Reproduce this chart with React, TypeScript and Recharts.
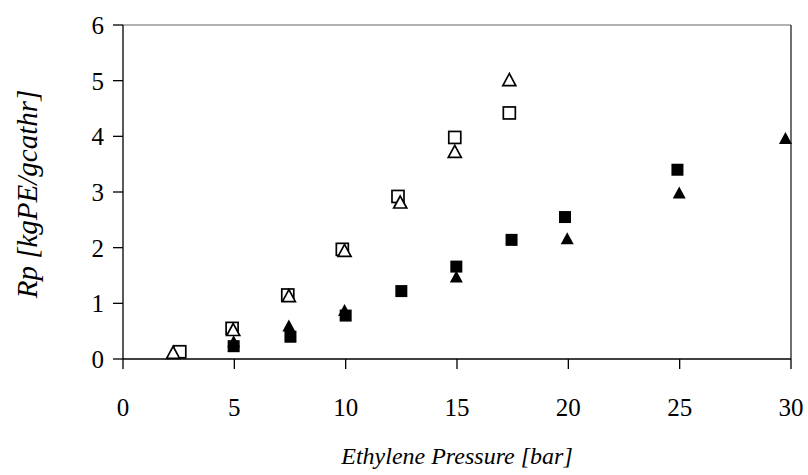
import { ScatterChart, Scatter, XAxis, YAxis, ReferenceLine } from "recharts"

// open squares
const openSquareX = [2.55, 4.9, 7.4, 9.85, 12.35, 14.9, 17.35]
const openSquareY = [0.13, 0.55, 1.15, 1.97, 2.92, 3.98, 4.42]

// open triangles
const openTriX = [2.25, 4.95, 7.45, 9.95, 12.45, 14.9, 17.35]
const openTriY = [0.12, 0.53, 1.14, 1.95, 2.82, 3.73, 5.02]

// filled squares
const fillSquareX = [4.97, 7.52, 10.0, 12.5, 14.97, 17.45, 19.85, 24.9]
const fillSquareY = [0.23, 0.4, 0.78, 1.22, 1.66, 2.14, 2.55, 3.4]

// filled triangles
const fillTriX = [4.97, 7.45, 9.95, 14.97, 19.95, 24.98, 29.75]
const fillTriY = [0.32, 0.6, 0.88, 1.48, 2.17, 2.99, 3.97]

const xTicks = [0, 5, 10, 15, 20, 25, 30]
const yTicks = [0, 1, 2, 3, 4, 5, 6]

const zip = (xs: number[], ys: number[]) => xs.map((x, i) => ({ x, y: ys[i] }))

const FONT = "Liberation Serif, Times New Roman, serif"

const square = (filled: boolean) => (p: any) => {
    const s = 12
    return (
        <rect
            x={p.cx - s / 2}
            y={p.cy - s / 2}
            width={s}
            height={s}
            fill={filled ? "#000" : "#fff"}
            stroke="#000"
            strokeWidth={filled ? 0 : 1.7}
        />
    )
}

const triangle = (filled: boolean) => (p: any) => {
    const h = 6
    const w = 6.5
    const pts = `${p.cx},${p.cy - h} ${p.cx - w},${p.cy + h} ${p.cx + w},${p.cy + h}`
    return (
        <polygon
            points={pts}
            fill={filled ? "#000" : "#fff"}
            stroke="#000"
            strokeWidth={filled ? 0 : 1.7}
        />
    )
}

const tick = { fill: "#000", fontSize: 25, fontFamily: FONT }

export default function App() {
    return (
        <div style={{ position: "absolute", left: 0, top: 0, background: "#fff" }}>
            <ScatterChart width={808} height={475} margin={{ top: 25, right: 17, bottom: 16, left: 23 }}>
                <XAxis
                    type="number"
                    dataKey="x"
                    domain={[0, 30]}
                    ticks={xTicks}
                    height={100}
                    tick={tick}
                    tickSize={10}
                    tickMargin={29}
                    stroke="#000"
                    strokeWidth={1.3}
                    label={{
                        content: (props: any) => {
                            const vb = props.viewBox
                            return (
                                <text
                                    x={vb.x + vb.width / 2}
                                    y={464}
                                    textAnchor="middle"
                                    fontFamily={FONT}
                                    fontStyle="italic"
                                    fontSize={24}
                                    fill="#000"
                                >
                                    Ethylene Pressure [bar]
                                </text>
                            )
                        },
                    }}
                />
                <YAxis
                    type="number"
                    dataKey="y"
                    domain={[0, 6]}
                    ticks={yTicks}
                    width={100}
                    tick={tick}
                    tickSize={10}
                    tickMargin={9}
                    stroke="#000"
                    strokeWidth={1.3}
                    label={{
                        content: (props: any) => {
                            const vb = props.viewBox
                            const cx = 27
                            const cy = vb.y + vb.height / 2 + 2
                            return (
                                <text
                                    x={cx}
                                    y={cy}
                                    transform={`rotate(-90 ${cx} ${cy})`}
                                    textAnchor="middle"
                                    dominantBaseline="central"
                                    fontFamily={FONT}
                                    fontStyle="italic"
                                    fontSize={29}
                                    fill="#000"
                                >
                                    Rp [kgPE/gcathr]
                                </text>
                            )
                        },
                    }}
                />
                <ReferenceLine y={6} stroke="#999" strokeWidth={1.3} />
                <ReferenceLine x={30} stroke="#222" strokeWidth={1.3} />
                <Scatter data={zip(openSquareX, openSquareY)} shape={square(false)} isAnimationActive={false} />
                <Scatter data={zip(openTriX, openTriY)} shape={triangle(false)} isAnimationActive={false} />
                <Scatter data={zip(fillSquareX, fillSquareY)} shape={square(true)} isAnimationActive={false} />
                <Scatter data={zip(fillTriX, fillTriY)} shape={triangle(true)} isAnimationActive={false} />
            </ScatterChart>
        </div>
    )
}
